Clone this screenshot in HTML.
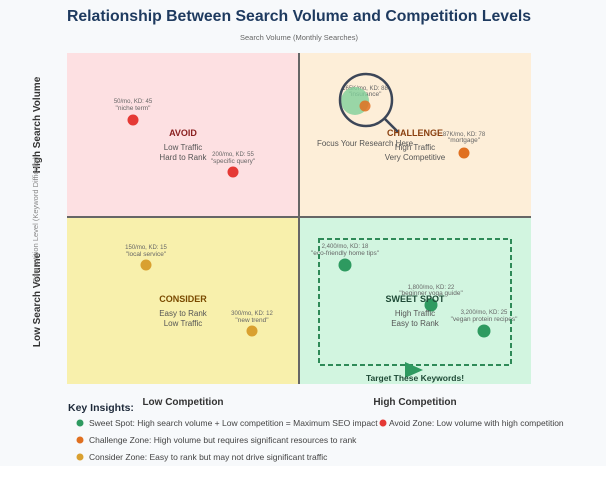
<!DOCTYPE html>
<html><head><meta charset="utf-8"><style>
body{margin:0;background:#f7f9fb;}
svg{display:block;font-family:"Liberation Sans",sans-serif;}
</style></head><body>
<svg width="606" height="491" viewBox="0 0 606 491">
<rect width="606" height="491" fill="#f7f9fb"/>
<text x="299" y="21" text-anchor="middle" font-size="15.8" font-weight="bold" fill="#1e3a5f">Relationship Between Search Volume and Competition Levels</text>
<text x="299" y="40" text-anchor="middle" font-size="7.5" fill="#666">Search Volume (Monthly Searches)</text>
<rect x="67" y="53" width="232" height="164" fill="#fde0e2"/>
<rect x="299" y="53" width="232" height="164" fill="#fdeed8"/>
<rect x="67" y="217" width="232" height="167" fill="#f8f0ac"/>
<rect x="299" y="217" width="232" height="167" fill="#d2f5e0"/>
<line x1="67" y1="217" x2="531" y2="217" stroke="#666" stroke-width="2"/>
<line x1="299" y1="53" x2="299" y2="384" stroke="#666" stroke-width="2"/>
<g font-size="6" fill="#666" text-anchor="middle">
<text x="133" y="103">50/mo, KD: 45</text><text x="133" y="110" font-size="6.5">"niche term"</text>
<text x="233" y="156">200/mo, KD: 55</text><text x="233" y="163" font-size="6.5">"specific query"</text>
<text x="146" y="249">150/mo, KD: 15</text><text x="146" y="256" font-size="6.5">"local service"</text>
<text x="252" y="315">300/mo, KD: 12</text><text x="252" y="322" font-size="6.5">"new trend"</text>
<text x="365" y="90">165K/mo, KD: 88</text><text x="365" y="96" font-size="6.5">"insurance"</text>
<text x="464" y="136">87K/mo, KD: 78</text><text x="464" y="142" font-size="6.5">"mortgage"</text>
<text x="345" y="248">2,400/mo, KD: 18</text><text x="345" y="255" font-size="6.5">"eco-friendly home tips"</text>
<text x="431" y="289">1,800/mo, KD: 22</text><text x="431" y="295" font-size="6.5">"beginner yoga guide"</text>
<text x="484" y="314">3,200/mo, KD: 25</text><text x="484" y="321" font-size="6.5">"vegan protein recipes"</text>
</g>
<circle cx="133" cy="120" r="5.5" fill="#e53935"/>
<circle cx="233" cy="172" r="5.5" fill="#e53935"/>
<circle cx="146" cy="265" r="5.5" fill="#d9a030"/>
<circle cx="252" cy="331" r="5.5" fill="#d9a030"/>
<circle cx="464" cy="153" r="5.5" fill="#e07020"/>
<circle cx="355" cy="101" r="14" fill="#7fcf9a" opacity="0.8"/>
<circle cx="365" cy="106" r="5.5" fill="#e07020" opacity="0.85"/>
<circle cx="366" cy="100" r="26" fill="none" stroke="#3c4658" stroke-width="2.5"/>
<line x1="385" y1="119" x2="398" y2="132" stroke="#3c4658" stroke-width="2.5"/>
<circle cx="345" cy="265" r="6.5" fill="#2e9a60"/>
<circle cx="431" cy="305" r="6.5" fill="#2e9a60"/>
<circle cx="484" cy="331" r="6.5" fill="#2e9a60"/>
<rect x="319" y="239" width="192" height="126" fill="none" stroke="#2e8a58" stroke-width="2" stroke-dasharray="5,3"/>
<polygon points="405,362 405,378 423,370" fill="#2e9a60"/>
<g text-anchor="middle">
<text x="183" y="136" font-size="9" font-weight="bold" fill="#8a2020">AVOID</text>
<text x="183" y="150" font-size="8" fill="#555">Low Traffic</text>
<text x="183" y="160" font-size="8" fill="#555">Hard to Rank</text>
<text x="415" y="136" font-size="9" font-weight="bold" fill="#8a4010">CHALLENGE</text>
<text x="415" y="150" font-size="8" fill="#555">High Traffic</text>
<text x="415" y="160" font-size="8" fill="#555">Very Competitive</text>
<text x="365" y="146" font-size="8" fill="#555">Focus Your Research Here</text>
<text x="183" y="302" font-size="9" font-weight="bold" fill="#7a4a00">CONSIDER</text>
<text x="183" y="316" font-size="8" fill="#555">Easy to Rank</text>
<text x="183" y="326" font-size="8" fill="#555">Low Traffic</text>
<text x="415" y="302" font-size="9" font-weight="bold" fill="#1e4a36">SWEET SPOT</text>
<text x="415" y="316" font-size="8" fill="#555">High Traffic</text>
<text x="415" y="326" font-size="8" fill="#555">Easy to Rank</text>
<text x="415" y="381" font-size="8.5" font-weight="bold" fill="#1e4a36">Target These Keywords!</text>
<text x="183" y="405" font-size="10" font-weight="bold" fill="#333">Low Competition</text>
<text x="415" y="405" font-size="10" font-weight="bold" fill="#333">High Competition</text>
</g>
<text transform="translate(40,125) rotate(-90)" text-anchor="middle" font-size="10" font-weight="bold" fill="#333">High Search Volume</text>
<text transform="translate(40,300) rotate(-90)" text-anchor="middle" font-size="10" font-weight="bold" fill="#333">Low Search Volume</text>
<text transform="translate(38,220) rotate(-90)" text-anchor="middle" font-size="7.5" fill="#888">Competition Level (Keyword Difficulty)</text>
<text x="68" y="411" font-size="10.5" font-weight="bold" fill="#1e2a3a">Key Insights:</text>
<g font-size="8.5" fill="#444">
<circle cx="80" cy="423" r="3.5" fill="#2e9a60"/><text x="89" y="426">Sweet Spot: High search volume + Low competition = Maximum SEO impact</text>
<circle cx="383" cy="423" r="3.5" fill="#e53935"/><text x="389" y="426">Avoid Zone: Low volume with high competition</text>
<circle cx="80" cy="440" r="3.5" fill="#e07020"/><text x="89" y="443">Challenge Zone: High volume but requires significant resources to rank</text>
<circle cx="80" cy="457" r="3.5" fill="#d9a030"/><text x="89" y="460">Consider Zone: Easy to rank but may not drive significant traffic</text>
</g>
<rect x="0" y="466" width="606" height="25" fill="#fff"/>
</svg>
</body></html>
